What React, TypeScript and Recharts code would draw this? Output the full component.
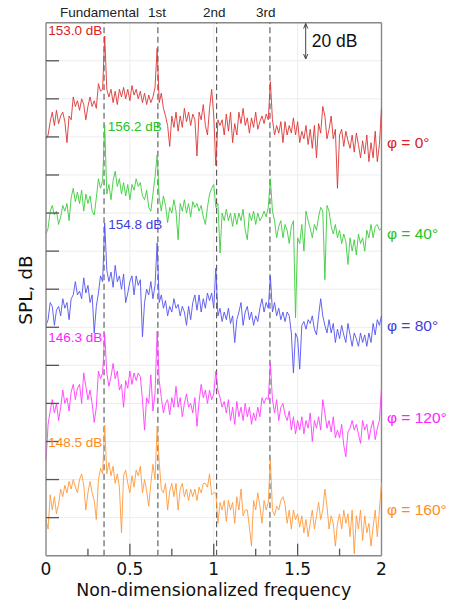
import React from 'react';
import { LineChart, Line, XAxis, YAxis, CartesianGrid, ReferenceLine } from 'recharts';

// spectra sampled every 0.0125 in non-dimensionalized frequency (0 .. 2), SPL in dB
const FREQ_STEP = 0.0125;

const red = [
  99, 101, 108, 113, 106, 114, 107, 111, 113, 108,
  97, 111, 109, 121, 116, 119, 114, 120, 117, 109,
  116, 121, 116, 119, 115, 128, 124, 125, 153, 125,
  121, 125, 118, 124, 117, 125, 121, 126, 120, 125,
  119, 127, 122, 125, 120, 124, 118, 123, 117, 122,
  118, 121, 126, 146.5, 118, 123, 115, 111, 106, 95,
  111, 105, 113, 103, 111, 105, 115, 108, 113, 106,
  112, 109, 90, 113, 109, 117, 106, 101, 115, 125,
  111, 85, 109, 106, 109, 101, 112, 103, 113, 97,
  107, 101, 113, 107, 115, 106, 110, 102, 110, 105,
  113, 104, 108, 111, 107, 112, 109, 129, 109, 101,
  106, 102, 108, 97, 108, 101, 106, 102, 110, 101,
  108, 97, 103, 99, 106, 96, 104, 94, 106, 89,
  107, 102, 116, 111, 99, 104, 111, 99, 104, 73,
  101, 104, 95, 103, 98, 94, 101, 92, 102, 96,
  89, 98, 91, 101, 87, 97, 89, 103, 87, 96,
  115,
];

const green = [
  99, 102, 111, 114, 109, 111, 104, 108, 114, 111,
  115, 106, 118, 123, 116, 121, 115, 122, 111, 120,
  115, 119, 111, 109, 118, 128, 123, 127, 156.2, 120,
  125, 117, 127, 132, 124, 128, 120, 126, 119, 125,
  117, 125, 122, 128, 124, 126, 119, 117, 122, 113,
  111, 120, 129, 140.5, 118, 111, 119, 114, 105, 113,
  110, 117, 111, 96, 115, 111, 117, 110, 115, 108,
  116, 113, 115, 111, 114, 108, 104, 113, 120, 123,
  125, 113, 115, 89, 110, 106, 112, 106, 110, 103,
  110, 104, 110, 106, 112, 101, 96, 110, 106, 111,
  104, 110, 106, 108, 111, 108, 113, 128, 111, 106,
  97, 103, 106, 97, 104, 101, 94, 103, 106, 55,
  97, 94, 104, 90, 111, 106, 102, 97, 104, 101,
  108, 113, 111, 75, 114, 111, 103, 99, 104, 97,
  101, 94, 99, 95, 83, 97, 90, 96, 88, 99,
  94, 97, 90, 101, 97, 104, 97, 103, 104, 101,
  102,
];

const blue = [
  101, 104, 113, 111, 101, 109, 111, 106, 115, 110,
  113, 104, 115, 117, 124, 117, 119, 115, 126, 118,
  122, 113, 117, 97, 111, 118, 127, 124, 154.8, 130,
  124, 129, 121, 132.5, 124, 127, 120, 128, 113, 118,
  124, 127, 117, 127, 122, 125, 95, 113, 120, 117,
  124, 115, 122, 144.4, 113, 117, 110, 114, 106, 111,
  108, 115, 110, 112, 106, 111, 108, 101, 111, 104,
  113, 117, 109, 117, 108, 115, 110, 118, 114, 118,
  110, 131, 106, 110, 103, 108, 104, 110, 102, 106,
  92, 104, 108, 113, 101, 108, 111, 104, 108, 101,
  106, 103, 110, 115, 108, 113, 110, 127, 108, 113,
  106, 110, 104, 108, 103, 108, 106, 97, 76, 97,
  94, 78, 101, 103, 99, 104, 102, 106, 99, 96,
  106, 115, 106, 101, 97, 104, 97, 102, 92, 99,
  94, 101, 96, 92, 102, 96, 90, 97, 94, 90,
  97, 92, 96, 90, 97, 92, 102, 96, 104, 101,
  106,
];

const magenta = [
  80, 99, 106, 112, 105, 110, 101, 108, 117, 110,
  113, 106, 116, 120, 112, 118, 120, 110, 126, 119,
  112, 117, 110, 100, 108, 127, 123, 126, 146.3, 126,
  119, 124, 131, 123, 127, 117, 120, 108, 122, 118,
  127, 120, 126, 122, 126, 124, 112, 96, 113, 110,
  125, 106, 115, 148, 122, 113, 105, 110, 112, 104,
  113, 108, 119, 108, 113, 103, 110, 115, 108, 110,
  105, 113, 98, 111, 120, 113, 117, 110, 117, 112,
  115, 127, 117, 113, 108, 111, 105, 112, 101, 108,
  99, 111, 103, 108, 101, 110, 103, 108, 99, 105,
  101, 108, 103, 113, 110, 113, 112, 131, 112, 105,
  112, 101, 108, 110, 104, 101, 106, 96, 103, 94,
  101, 96, 103, 94, 101, 97, 105, 90, 101, 97,
  103, 96, 112, 105, 97, 101, 95, 103, 92, 96,
  92, 99, 88, 82, 95, 97, 101, 96, 99, 94,
  89, 101, 96, 99, 91, 97, 101, 91, 97, 101,
  118,
];

const orange = [
  99, 94, 112, 104, 111, 102, 107, 115, 111, 117,
  113, 119, 115, 120, 116, 113, 120, 123, 117, 104,
  113, 119, 113, 109, 99, 120, 126, 123, 148.5, 123,
  129, 122, 127, 118, 123, 116, 92, 122, 125, 118,
  113, 122, 116, 125, 122, 127, 113, 120, 114, 106,
  118, 128, 120, 148, 129, 115, 113, 118, 104, 114,
  118, 111, 118, 104, 115, 118, 111, 115, 109, 115,
  111, 115, 109, 116, 113, 118, 118, 116, 123, 112,
  113, 113, 97, 108, 104, 109, 98, 109, 104, 108,
  97, 111, 104, 115, 101, 104, 104, 95, 85, 109,
  104, 113, 106, 97, 109, 104, 108, 130, 104, 101,
  106, 104, 109, 111, 107, 97, 104, 94, 104, 99,
  102, 95, 101, 92, 99, 90, 97, 104, 94, 101,
  108, 99, 104, 115, 106, 94, 101, 97, 85, 97,
  102, 94, 104, 97, 102, 90, 104, 81, 101, 94,
  104, 88, 101, 92, 97, 85, 95, 104, 90, 104,
  118,
];

// each spectrum is shifted by this many dB so the five curves stack
const offsets = [120, 70, 20, -30, -80];
const seriesKeys = ['red', 'green', 'blue', 'magenta', 'orange'];
const peakLabels = ['153.0 dB', '156.2 dB', '154.8 dB', '146.3 dB', '148.5 dB'];
const angleLabels = ['φ = 0°', 'φ = 40°', 'φ = 80°', 'φ = 120°', 'φ = 160°'];
const harmonicFreqs = [0.346, 0.667, 1.017, 1.335];
const harmonicNames = ['Fundamental', '1st', '2nd', '3rd'];
const xTicks = [0, 0.25, 0.5, 0.75, 1, 1.25, 1.5, 1.75, 2];
const yTicks = [0, 20, 40, 60, 80, 100, 120, 140, 160, 180, 200, 220, 240, 260, 280];

const lineColors = ['#dd3535', '#3ccc3c', '#5252f0', '#ff3cff', '#ff9a3c'];
const textColors = ['#dd2020', '#22c422', '#3d3de0', '#ff22ff', '#ff8c1a'];

const spectra = [red, green, blue, magenta, orange];

const data = red.map((_, i) => {
  const row: Record<string, number> = { f: i * FREQ_STEP };
  spectra.forEach((s, k) => {
    row[seriesKeys[k]] = s[i] + offsets[k];
  });
  return row;
});

const AXIS_FONT = 'DejaVu Sans, sans-serif';
const NOTE_FONT = 'Liberation Sans, Arial, sans-serif';
const FRAME = '#888888';

const XTick = ({ x, y, payload }: any) => {
  const v = payload.value as number;
  const major = Math.abs(v * 2 - Math.round(v * 2)) < 1e-6;
  return (
    <g>
      {v > 0 && v < 2 && (
        <line x1={x} x2={x} y1={y} y2={y - (major ? 12 : 7)} stroke="#555" strokeWidth={1.3} />
      )}
      {major && (
        <text x={x} y={y + 19.5} textAnchor="middle" fontFamily={AXIS_FONT} fontSize={17} fill="#111">
          {String(v)}
        </text>
      )}
    </g>
  );
};

const YTick = ({ x, y, payload }: any) => {
  const v = payload.value as number;
  if (v <= 0 || v >= 280) return <g />;
  return <line x1={x} x2={x + 13} y1={y} y2={y} stroke="#555" strokeWidth={1.3} />;
};

const peakPos = [
  [48.3, 35],
  [107.7, 131],
  [108.3, 229.3],
  [48.3, 341.7],
  [48.3, 446.7],
];
const angleY = [148.3, 239.3, 331, 422.7, 515];
const harmonicLabelX = [99.5, 157, 214.3, 265.7];

export default function App() {
  return (
    <div style={{ position: 'absolute', left: 0, top: 0, width: 449, height: 605, background: '#fff' }}>
      <LineChart
        width={449}
        height={605}
        data={data}
        margin={{ top: 22.7, right: 67.5, bottom: 19.3, left: 26 }}
      >
        <CartesianGrid vertical={false} stroke="#ececec" strokeWidth={1} />
        {[0.5, 1, 1.5].map((g) => (
          <ReferenceLine key={'g' + g} x={g} stroke="#ececec" strokeWidth={1} />
        ))}
        <XAxis
          dataKey="f"
          type="number"
          domain={[0, 2]}
          ticks={xTicks}
          interval={0}
          height={30}
          tickSize={0}
          tickMargin={0}
          tickLine={false}
          axisLine={{ stroke: FRAME, strokeWidth: 1.4 }}
          tick={<XTick />}
        />
        <YAxis
          type="number"
          domain={[0, 280]}
          ticks={yTicks}
          interval={0}
          width={20}
          tickSize={0}
          tickMargin={0}
          tickLine={false}
          axisLine={{ stroke: FRAME, strokeWidth: 1.4 }}
          tick={<YTick />}
        />
        <ReferenceLine y={280} stroke={FRAME} strokeWidth={1.4} />
        <ReferenceLine x={2} stroke={FRAME} strokeWidth={1.4} />
        {harmonicFreqs.map((h) => (
          <ReferenceLine key={'h' + h} x={h} stroke="#555" strokeWidth={1.1} strokeDasharray="6 3.5" />
        ))}
        {seriesKeys.map((k, i) => (
          <Line
            key={k}
            type="linear"
            dataKey={k}
            stroke={lineColors[i]}
            strokeWidth={0.9}
            dot={false}
            isAnimationActive={false}
          />
        ))}
      </LineChart>

      <svg
        width={449}
        height={605}
        style={{ position: 'absolute', left: 0, top: 0, pointerEvents: 'none' }}
      >
        {harmonicNames.map((n, i) => (
          <text key={n} x={harmonicLabelX[i]} y={16.7} textAnchor="middle" fontFamily={NOTE_FONT} fontSize={13.5} fill="#222">
            {n}
          </text>
        ))}
        {peakLabels.map((p, i) => (
          <text key={p} x={peakPos[i][0]} y={peakPos[i][1]} fontFamily={NOTE_FONT} fontSize={13.5} fill={textColors[i]}>
            {p}
          </text>
        ))}
        {angleLabels.map((a, i) => (
          <text key={a} x={387} y={angleY[i]} fontFamily={NOTE_FONT} fontSize={15.5} fill={textColors[i]}>
            {a}
          </text>
        ))}
        <g stroke="#444" strokeWidth={1} fill="none">
          <line x1={305.7} x2={305.7} y1={23.5} y2={59} />
          <polyline points="303.6,28.5 305.7,23.5 307.8,28.5" />
          <polyline points="303.6,54 305.7,59 307.8,54" />
        </g>
        <text x={311.7} y={46.7} fontFamily={NOTE_FONT} fontSize={17.5} fill="#111">
          20 dB
        </text>
        <text
          x={31.5}
          y={290}
          transform="rotate(-90, 31.5, 290)"
          textAnchor="middle"
          fontFamily={AXIS_FONT}
          fontSize={18.5}
          fill="#111"
        >
          SPL, dB
        </text>
        <text x={213.7} y={596} textAnchor="middle" fontFamily={AXIS_FONT} fontSize={17.4} fill="#111">
          Non-dimensionalized frequency
        </text>
      </svg>
    </div>
  );
}
